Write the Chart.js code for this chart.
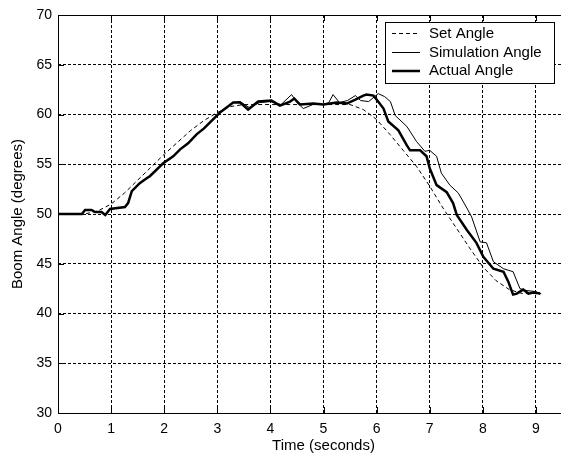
<!DOCTYPE html>
<html>
<head>
<meta charset="utf-8">
<script src="https://cdn.jsdelivr.net/npm/chart.js@4.4.0/dist/chart.umd.min.js"></script>
<style>
  html, body { margin: 0; padding: 0; background: #fff; overflow: hidden; }
  #wrap { width: 620px; height: 455px; }
</style>
</head>
<body>
<div id="wrap"><canvas id="c" width="620" height="455"></canvas></div>
<script>
// values
var setTime  = [0, 0.5, 0.75, 1.0, 1.25, 1.5, 1.75, 2.0, 2.25, 2.5, 2.75, 3.0, 3.25, 3.5, 4.0, 4.5, 5.0, 5.5, 5.75, 6.0, 6.25, 6.5, 6.75, 7.0, 7.25, 7.5, 7.75, 8.0, 8.25, 8.5, 8.75, 9.1];
var setAngle = [50, 50, 50.3, 51.0, 52.1, 53.4, 54.7, 56.0, 57.2, 58.4, 59.4, 60.2, 60.8, 61.0, 61.0, 61.0, 61.0, 61.0, 60.5, 59.5, 58.0, 56.4, 54.8, 52.8, 50.6, 48.6, 46.6, 44.7, 43.3, 42.4, 42.0, 42.0];

var actTime  = [0, 0.45, 0.51, 0.63, 0.70, 0.82, 0.89, 0.98, 1.26, 1.32, 1.39, 1.54, 1.67, 1.73, 1.98, 2.17, 2.30, 2.45, 2.61, 2.75, 3.05, 3.30, 3.43, 3.58, 3.77, 4.02, 4.18, 4.37, 4.45, 4.56, 4.81, 5.0, 5.25, 5.44, 5.6, 5.75, 5.81, 5.94, 6.0, 6.13, 6.22, 6.41, 6.57, 6.63, 6.82, 6.94, 7.0, 7.13, 7.32, 7.44, 7.51, 7.70, 7.88, 8.01, 8.20, 8.39, 8.48, 8.57, 8.64, 8.76, 8.86, 8.95, 9.08];
var actAngle = [50.0, 50.0, 50.4, 50.4, 50.2, 50.2, 49.9, 50.5, 50.7, 51.1, 52.3, 53.1, 53.6, 53.8, 55.1, 55.8, 56.5, 57.1, 58.0, 58.6, 60.2, 61.2, 61.2, 60.5, 61.3, 61.4, 60.9, 61.3, 61.6, 61.0, 61.1, 61.0, 61.2, 61.1, 61.5, 61.9, 62.0, 61.9, 61.5, 60.6, 59.3, 58.4, 56.9, 56.4, 56.4, 55.8, 54.6, 52.9, 52.2, 51.1, 49.9, 48.4, 47.1, 45.7, 44.5, 44.2, 43.2, 41.9, 42.0, 42.4, 42.0, 42.1, 42.0];

var simTime  = [0, 0.45, 0.51, 0.63, 0.70, 0.82, 0.89, 0.98, 1.26, 1.32, 1.39, 1.54, 1.67, 1.73, 1.98, 2.17, 2.30, 2.45, 2.61, 2.75, 3.05, 3.30, 3.43, 3.6, 3.8, 4.0, 4.2, 4.4, 4.5, 4.62, 4.8, 5.0, 5.1, 5.18, 5.3, 5.45, 5.6, 5.7, 5.85, 6.03, 6.15, 6.26, 6.35, 6.57, 6.75, 6.91, 7.0, 7.13, 7.22, 7.38, 7.54, 7.70, 7.79, 7.95, 8.07, 8.2, 8.39, 8.57, 8.70, 8.83, 9.01, 9.08];
var simAngle = [50.0, 50.0, 50.4, 50.4, 50.2, 50.2, 49.9, 50.5, 50.7, 51.1, 52.3, 53.1, 53.6, 53.8, 55.1, 55.8, 56.5, 57.1, 58.0, 58.6, 60.2, 61.2, 61.3, 60.7, 61.2, 61.3, 61.0, 62.0, 61.2, 60.6, 61.0, 61.0, 61.2, 62.0, 61.2, 61.4, 61.9, 61.4, 61.3, 62.1, 61.8, 61.3, 59.9, 58.8, 57.3, 56.3, 56.4, 55.8, 54.1, 52.9, 52.1, 50.6, 49.7, 47.2, 47.1, 45.2, 44.5, 44.2, 42.5, 42.3, 42.2, 41.9];

var xTicks = [0, 1, 2, 3, 4, 5, 6, 7, 8, 9, 10];
var yTicks = [30, 35, 40, 45, 50, 55, 60, 65, 70];
var legendNames = ["Set Angle", "Simulation Angle", "Actual Angle"];

function pts(xs, ys) {
    return xs.map(function (x, i) { return { x: x, y: ys[i] }; });
}

var FONT = "'Liberation Sans', Arial, sans-serif";

// frame, inward tick marks and the legend box
var frame = {
    id: "frame",
    afterDraw: function (chart) {
        var ctx = chart.ctx, a = chart.chartArea;
        var xs = chart.scales.x, ys = chart.scales.y;
        ctx.save();
        ctx.strokeStyle = "#000";
        ctx.lineWidth = 1;
        ctx.setLineDash([]);
        ctx.strokeRect(Math.round(a.left) + 0.5, Math.round(a.top) + 0.5,
            Math.round(a.right - a.left), Math.round(a.bottom - a.top));
        ctx.beginPath();
        xTicks.forEach(function (t) {
            var px = Math.round(xs.getPixelForValue(t)) + 0.5;
            ctx.moveTo(px, a.bottom); ctx.lineTo(px, a.bottom - 6);
            ctx.moveTo(px, a.top); ctx.lineTo(px, a.top + 6);
        });
        yTicks.forEach(function (t) {
            var py = Math.round(ys.getPixelForValue(t)) + 0.5;
            ctx.moveTo(a.left, py); ctx.lineTo(a.left + 6, py);
            ctx.moveTo(a.right, py); ctx.lineTo(a.right - 6, py);
        });
        ctx.stroke();

        // legend
        var bx = 385.5, by = 22.5, bw = 169, bh = 61;
        ctx.fillStyle = "#fff";
        ctx.fillRect(bx, by, bw, bh);
        ctx.strokeRect(bx, by, bw, bh);
        var rows = [33.5, 52.5, 71];
        var dashes = [[4, 3], [], []];
        var widths = [1, 1, 2.5];
        ctx.font = "15px " + FONT;
        ctx.textBaseline = "middle";
        ctx.fillStyle = "#000";
        legendNames.forEach(function (name, i) {
            ctx.beginPath();
            ctx.setLineDash(dashes[i]);
            ctx.lineWidth = widths[i];
            ctx.moveTo(392, rows[i]); ctx.lineTo(420, rows[i]);
            ctx.stroke();
            ctx.fillText(name, 429, rows[i]);
        });
        ctx.restore();
    }
};

new Chart(document.getElementById("c"), {
    type: "scatter",
    data: {
        datasets: [
            {
                label: legendNames[0],
                data: pts(setTime, setAngle),
                showLine: true,
                borderColor: "#000",
                borderWidth: 1,
                borderDash: [4, 3],
                pointRadius: 0,
                order: 3
            },
            {
                label: legendNames[1],
                data: pts(simTime, simAngle),
                showLine: true,
                borderColor: "#000",
                borderWidth: 1,
                pointRadius: 0,
                order: 2
            },
            {
                label: legendNames[2],
                data: pts(actTime, actAngle),
                showLine: true,
                borderColor: "#000",
                borderWidth: 2.5,
                pointRadius: 0,
                order: 1
            }
        ]
    },
    options: {
        responsive: false,
        animation: false,
        layout: { padding: { left: 0, top: 15, right: 31, bottom: 0 } },
        plugins: {
            legend: { display: false },
            tooltip: { enabled: false }
        },
        scales: {
            x: {
                type: "linear",
                min: 0,
                max: 10,
                afterBuildTicks: function (s) { s.ticks = xTicks.map(function (v) { return { value: v }; }); },
                afterFit: function (s) { s.height = 42; },
                ticks: { color: "#000", padding: 8, font: { family: FONT, size: 14 } },
                grid: { color: "#000", lineWidth: 1, drawTicks: false },
                border: { display: false, dash: [3, 2] },
                title: {
                    display: true,
                    text: "Time (seconds)",
                    color: "#000",
                    font: { family: FONT, size: 15 },
                    padding: { top: 0, bottom: 0 }
                }
            },
            y: {
                type: "linear",
                min: 30,
                max: 70,
                afterBuildTicks: function (s) { s.ticks = yTicks.map(function (v) { return { value: v }; }); },
                afterFit: function (s) { s.width = 58; },
                ticks: { color: "#000", padding: 6, font: { family: FONT, size: 14 } },
                grid: { color: "#000", lineWidth: 1, drawTicks: false },
                border: { display: false, dash: [3, 2] },
                title: {
                    display: true,
                    text: "Boom Angle (degrees)",
                    color: "#000",
                    font: { family: FONT, size: 15 },
                    padding: { top: 9, bottom: 0 }
                }
            }
        }
    },
    plugins: [frame]
});
</script>
</body>
</html>
